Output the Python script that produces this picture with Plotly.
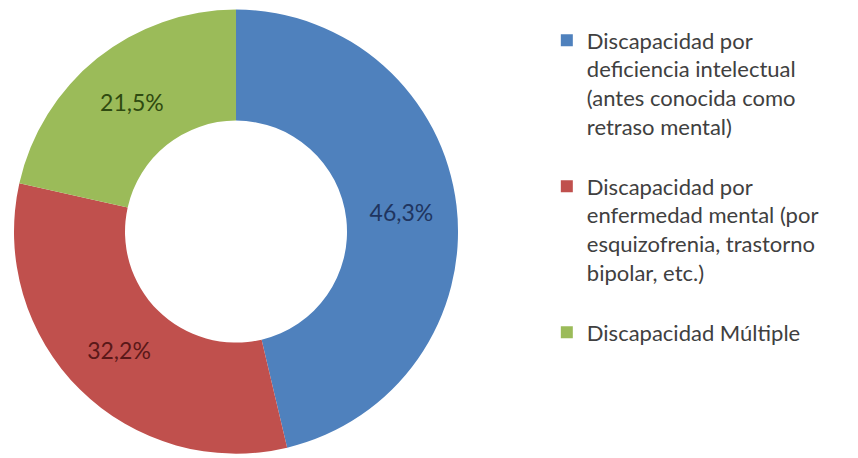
import plotly.graph_objects as go

# Datos del gráfico
categorias = [
    "Discapacidad por<br>deficiencia intelectual<br>(antes conocida como<br>retraso mental)<br> ",
    "Discapacidad por<br>enfermedad mental (por<br>esquizofrenia, trastorno<br>bipolar, etc.)<br> ",
    "Discapacidad Múltiple",
]
porcentajes = [46.3, 32.2, 21.5]
colores = ["#4F81BD", "#C0504D", "#9BBB59"]
colores_texto = ["#1F3560", "#5A1818", "#2F4A10"]

fig = go.Figure(go.Pie(
    labels=categorias,
    values=porcentajes,
    hole=0.5,
    sort=False,
    direction="clockwise",
    rotation=0,
    marker=dict(colors=colores, line=dict(color="white", width=0)),
    texttemplate="%{percent:.1%}",
    textposition="inside",
    insidetextorientation="horizontal",
    textfont=dict(family="Lato", size=23, color=colores_texto),
    domain=dict(x=[0.007, 0.5245], y=[0.027, 0.9965]),
))

fig.update_layout(
    width=858, height=458,
    margin=dict(l=0, r=0, t=0, b=0),
    paper_bgcolor="white",
    separators=",.",
    showlegend=True,
    legend=dict(
        x=0.628, y=0.975, xanchor="left", yanchor="top",
        valign="top",
        font=dict(family="Lato", size=22, color="#404040"),
        itemwidth=30,
    ),
)

fig.write_html("out.html")
